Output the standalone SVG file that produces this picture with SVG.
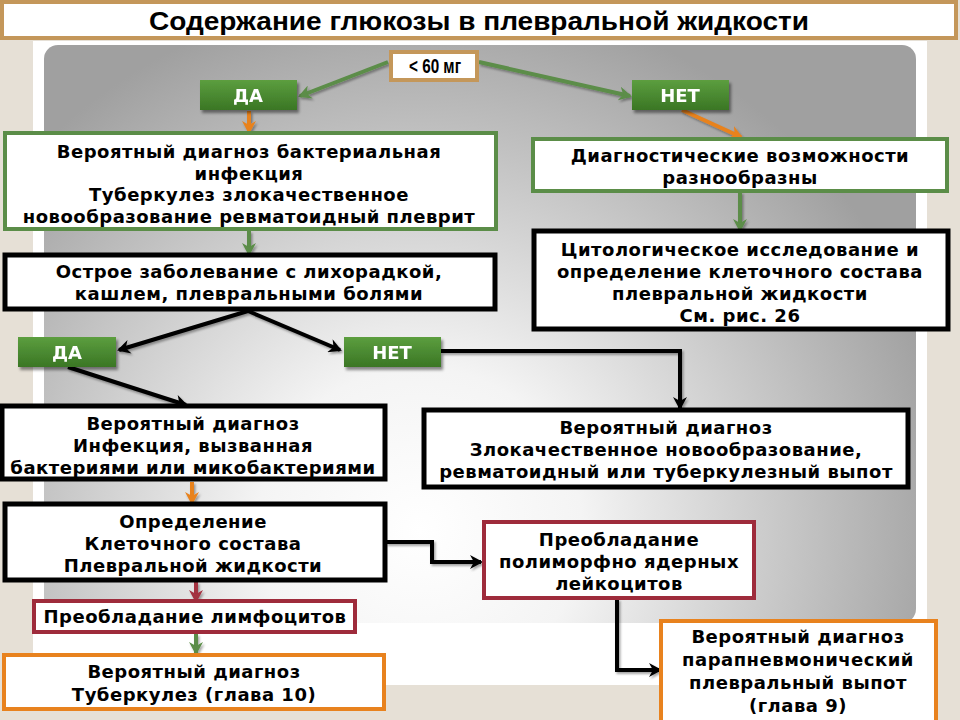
<svg xmlns="http://www.w3.org/2000/svg" width="960" height="720" viewBox="0 0 960 720">
<defs>
<radialGradient id="bg" gradientUnits="userSpaceOnUse" cx="420" cy="530" r="540">
<stop offset="0" stop-color="#ffffff"/>
<stop offset="0.3" stop-color="#f4f4f4"/>
<stop offset="1" stop-color="#a0a0a0"/>
</radialGradient>
<linearGradient id="btn" x1="0" y1="0" x2="0" y2="1">
<stop offset="0" stop-color="#5c9e3f"/>
<stop offset="1" stop-color="#3a7624"/>
</linearGradient>
<filter id="sh" x="-20%" y="-20%" width="140%" height="160%">
<feDropShadow dx="2" dy="3" stdDeviation="1.5" flood-color="#000" flood-opacity="0.45"/>
</filter>
<filter id="ash" x="-20%" y="-20%" width="140%" height="140%">
<feDropShadow dx="1.5" dy="2" stdDeviation="1" flood-color="#000" flood-opacity="0.35"/>
</filter>
<marker id="mg" markerUnits="userSpaceOnUse" markerWidth="14" markerHeight="14" refX="11" refY="7" orient="auto"><path d="M0,0 L13,7 L0,14 L4,7 z" fill="#5b8d48"/></marker>
<marker id="mo" markerUnits="userSpaceOnUse" markerWidth="14" markerHeight="14" refX="11" refY="7" orient="auto"><path d="M0,0 L13,7 L0,14 L4,7 z" fill="#e8821e"/></marker>
<marker id="mk" markerUnits="userSpaceOnUse" markerWidth="14" markerHeight="14" refX="11" refY="7" orient="auto"><path d="M0,0 L13,7 L0,14 L4,7 z" fill="#000"/></marker>
<marker id="mr" markerUnits="userSpaceOnUse" markerWidth="14" markerHeight="14" refX="11" refY="7" orient="auto"><path d="M0,0 L13,7 L0,14 L4,7 z" fill="#a3303f"/></marker>
<style>
.t{font-family:"DejaVu Sans",Verdana,sans-serif;font-weight:bold;font-size:18px;letter-spacing:0.5px;fill:#000;text-anchor:middle}
.bt{font-family:"DejaVu Sans",Verdana,sans-serif;font-weight:bold;font-size:18px;fill:#fff;text-anchor:middle}
.nr{font-family:"Liberation Sans Narrow","Liberation Sans",Arial,sans-serif;font-weight:bold;fill:#000;text-anchor:middle}
.bx{fill:#fff;stroke-width:4}
.g{stroke:#5b8d48}
.k{stroke:#000;stroke-width:5}
.r{stroke:#9e2b3b}
.o{stroke:#e8821e}
.c{fill:none;stroke-width:4}
</style>
</defs>
<rect width="960" height="720" fill="#e6e0d6"/>
<rect x="33" y="41" width="894" height="644" fill="#ffffff"/>
<rect x="44" y="45" width="872" height="578" rx="14" fill="url(#bg)"/>

<g id="title">
<rect x="2" y="2" width="954" height="36" fill="#fff" stroke="#c4975a" stroke-width="4"/>
<text x="479" y="30" class="nr" font-size="25" textLength="660" lengthAdjust="spacingAndGlyphs">Содержание глюкозы в плевральной жидкости</text>
</g>

<g id="connectors" filter="url(#ash)">
<line x1="388" y1="62" x2="300" y2="96" class="c" stroke="#5b8d48" marker-end="url(#mg)"/>
<line x1="479" y1="62" x2="630" y2="96" class="c" stroke="#5b8d48" marker-end="url(#mg)"/>
<line x1="249" y1="111" x2="249" y2="132" class="c" stroke="#e8821e" marker-end="url(#mo)"/>
<line x1="682" y1="110" x2="741" y2="137" class="c" stroke="#e8821e" marker-end="url(#mo)"/>
<line x1="740" y1="192" x2="740" y2="230" class="c" stroke="#5b8d48" marker-end="url(#mg)"/>
<line x1="249" y1="231" x2="249" y2="254" class="c" stroke="#5b8d48" marker-end="url(#mg)"/>
<line x1="248" y1="311" x2="340" y2="350" class="c" stroke="#000" marker-end="url(#mk)"/>
<line x1="248" y1="311" x2="119" y2="350" class="c" stroke="#000" marker-end="url(#mk)"/>
<line x1="68" y1="367" x2="186" y2="405" class="c" stroke="#000" marker-end="url(#mk)"/>
<polyline points="441,351 680,351 680,408" class="c" stroke="#000" marker-end="url(#mk)"/>
<line x1="192" y1="482" x2="192" y2="503" class="c" stroke="#e8821e" marker-end="url(#mo)"/>
<polyline points="386,542 432,542 432,562 481,562" class="c" stroke="#000" marker-end="url(#mk)"/>
<line x1="196" y1="582" x2="196" y2="601" class="c" stroke="#a3303f" marker-end="url(#mr)"/>
<line x1="196" y1="634" x2="196" y2="653" class="c" stroke="#5b8d48" marker-end="url(#mg)"/>
<polyline points="617,599 617,670 660,670" class="c" stroke="#000" marker-end="url(#mk)"/>
</g>

<g id="n-lt60">
<rect x="391" y="52" width="86" height="28" class="bx" stroke="#c4975a" stroke-width="3"/>
<text x="435" y="73" class="nr" font-size="21" textLength="52" lengthAdjust="spacingAndGlyphs">&lt; 60 мг</text>
</g>
<g id="n-da1" filter="url(#sh)">
<rect x="200" y="80" width="97" height="30" fill="url(#btn)"/>
<text x="248" y="102" class="bt">ДА</text>
</g>
<g id="n-net1" filter="url(#sh)">
<rect x="632" y="80" width="97" height="30" fill="url(#btn)"/>
<text x="680" y="102" class="bt">НЕТ</text>
</g>

<g id="n-bact">
<rect x="5" y="133" width="491" height="96" class="bx g"/>
<text x="249" y="158" class="t">Вероятный диагноз бактериальная</text>
<text x="249" y="180" class="t">инфекция</text>
<text x="249" y="201" class="t">Туберкулез злокачественное</text>
<text x="249" y="223" class="t">новообразование ревматоидный плеврит</text>
</g>

<g id="n-diag">
<rect x="533" y="139" width="414" height="52" class="bx g"/>
<text x="740" y="162" class="t">Диагностические возможности</text>
<text x="740" y="184" class="t">разнообразны</text>
</g>

<g id="n-cyto">
<rect x="534" y="231" width="414" height="98" class="bx k"/>
<text x="740" y="256" class="t">Цитологическое исследование и</text>
<text x="740" y="278" class="t">определение клеточного состава</text>
<text x="740" y="300" class="t">плевральной жидкости</text>
<text x="740" y="322" class="t">См. рис. 26</text>
</g>

<g id="n-acute">
<rect x="5" y="255" width="490" height="54" class="bx k"/>
<text x="249" y="278" class="t">Острое заболевание с лихорадкой,</text>
<text x="249" y="300" class="t">кашлем, плевральными болями</text>
</g>

<g id="n-da2" filter="url(#sh)">
<rect x="18" y="337" width="98" height="30" fill="url(#btn)"/>
<text x="67" y="359" class="bt">ДА</text>
</g>
<g id="n-net2" filter="url(#sh)">
<rect x="344" y="337" width="97" height="30" fill="url(#btn)"/>
<text x="392" y="359" class="bt">НЕТ</text>
</g>

<g id="n-infect">
<rect x="2" y="406" width="383" height="73" class="bx k"/>
<text x="193" y="430" class="t">Вероятный диагноз</text>
<text x="193" y="452" class="t">Инфекция, вызванная</text>
<text x="193" y="474" class="t">бактериями или микобактериями</text>
</g>

<g id="n-malig">
<rect x="424" y="410" width="484" height="77" class="bx k"/>
<text x="666" y="434" class="t">Вероятный диагноз</text>
<text x="666" y="456" class="t">Злокачественное новообразование,</text>
<text x="666" y="478" class="t">ревматоидный или туберкулезный выпот</text>
</g>

<g id="n-cell">
<rect x="5" y="504" width="380" height="76" class="bx k"/>
<text x="193" y="528" class="t">Определение</text>
<text x="193" y="550" class="t">Клеточного состава</text>
<text x="193" y="572" class="t">Плевральной жидкости</text>
</g>

<g id="n-pmn">
<rect x="484" y="522" width="270" height="76" class="bx r"/>
<text x="619" y="546" class="t">Преобладание</text>
<text x="619" y="568" class="t">полиморфно ядерных</text>
<text x="619" y="590" class="t">лейкоцитов</text>
</g>

<g id="n-lymph">
<rect x="34" y="601" width="321" height="31" class="bx r"/>
<text x="195" y="623" class="t">Преобладание лимфоцитов</text>
</g>

<g id="n-tb">
<rect x="4" y="655" width="380" height="54" class="bx o"/>
<text x="194" y="678" class="t">Вероятный диагноз</text>
<text x="194" y="701" class="t">Туберкулез (глава 10)</text>
</g>

<g id="n-para">
<rect x="661" y="621" width="275" height="104" class="bx o"/>
<text x="798" y="643" class="t">Вероятный диагноз</text>
<text x="798" y="666" class="t">парапневмонический</text>
<text x="798" y="689" class="t">плевральный выпот</text>
<text x="798" y="712" class="t">(глава 9)</text>
</g>
</svg>
